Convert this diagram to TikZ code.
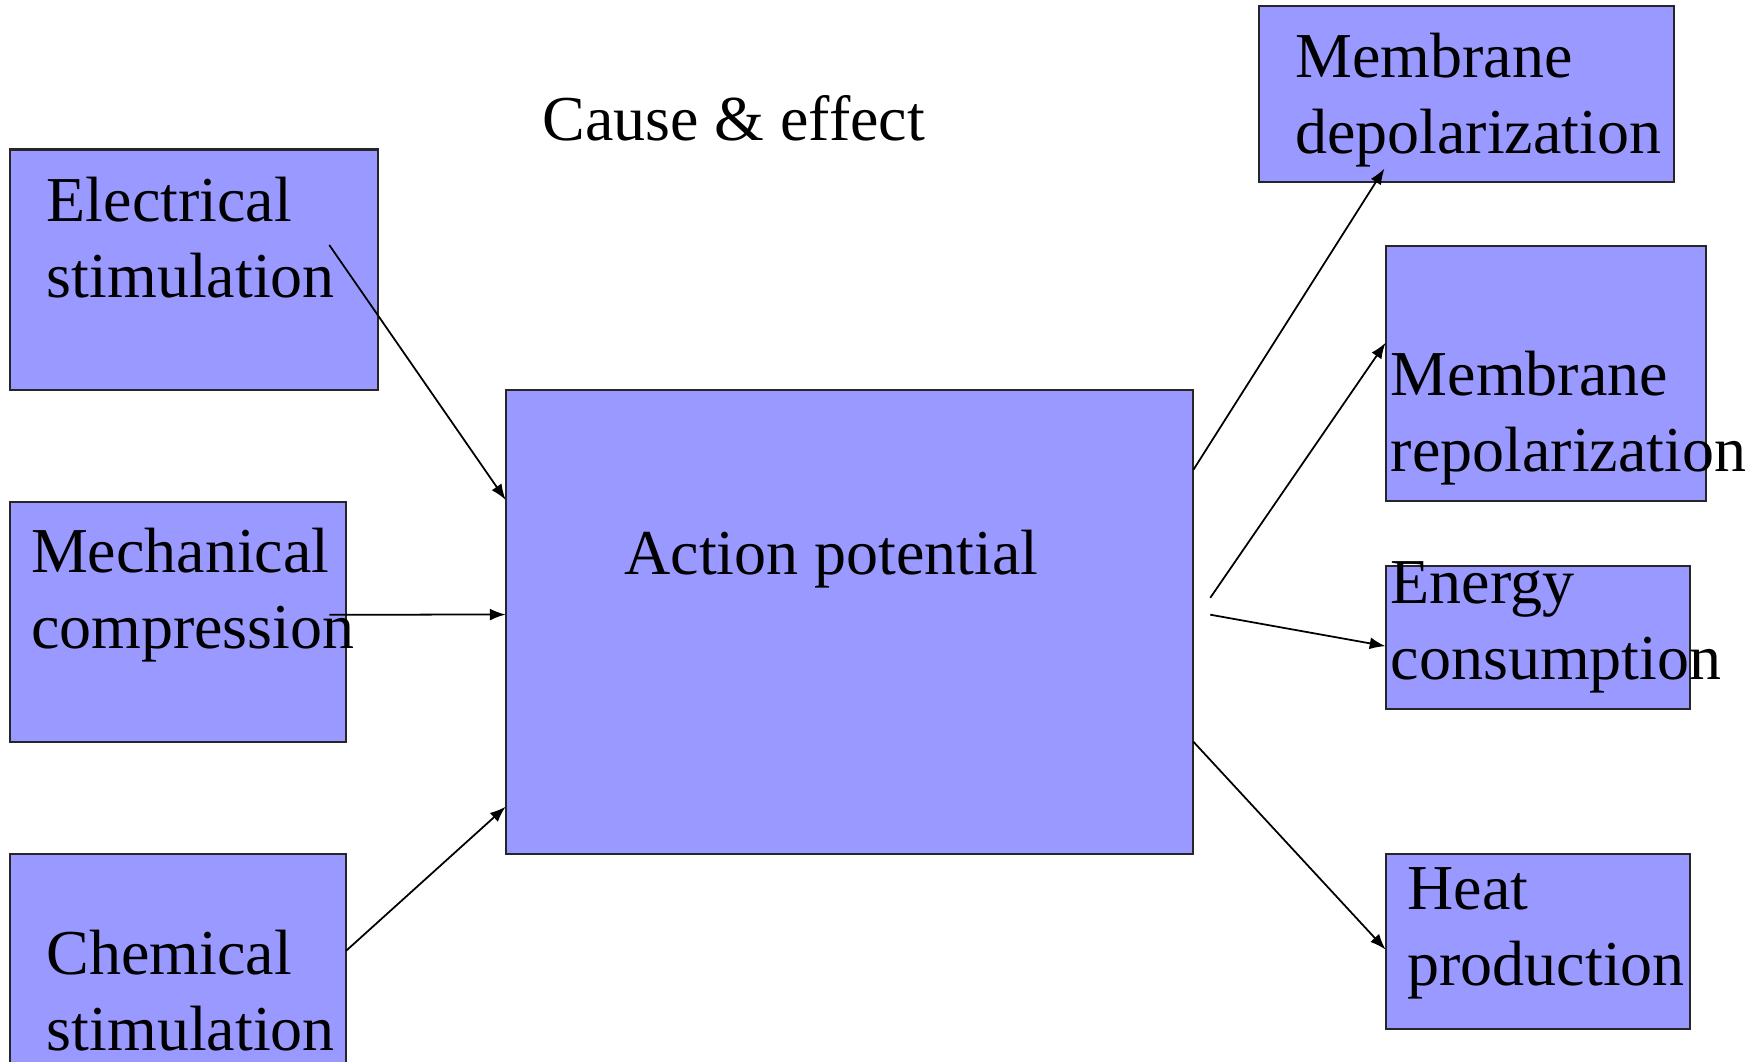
\documentclass[tikz,border=0pt]{standalone}
\usepackage{fontspec}
\setmainfont{Liberation Serif}
\usetikzlibrary{fit,calc,arrows.meta}
\definecolor{boxblue}{RGB}{153,153,255}

\begin{document}
\begin{tikzpicture}
  [x=0.011237cm,y=-0.011237cm,
   box/.style={draw=black!85,line width=0.6pt,fill=boxblue,inner sep=0pt,outer sep=0pt},
   lbl/.style={anchor=base west,align=left,inner sep=0pt,font=\fontsize{18.2}{21.7}\selectfont},
   link/.style={-{Latex[length=4.5pt,width=3.4pt]},line width=0.5pt}]
  \useasboundingbox (0,0) rectangle (1568,944.2);

  % causes
  \node[box,fit={(9,133) (336,347)}] (elec) {};
  \node[box,fit={(9,447) (308,660)}] (mech) {};
  \node[box,fit={(9,760) (308,965)}] (chem) {};
  % centre
  \node[box,fit={(450,347) (1062,760)}] (ap) {};
  % effects
  \node[box,fit={(1120,5) (1490,162)}] (depol) {};
  \node[box,fit={(1233,219) (1518,446)}] (repol) {};
  \node[box,fit={(1233,504) (1504,631)}] (energy) {};
  \node[box,fit={(1233,760) (1504,916)}] (heat) {};

  % texts (base = last line)
  \node[lbl] (title) at (482,125) {Cause \& effect};
  \node[lbl] (elec txt) at (41,265) {Electrical\\stimulation};
  \node[lbl] (mech txt) at (27,577) {Mechanical\\compression};
  \node[lbl] (chem txt) at (41,935) {Chemical\\stimulation};
  \node[lbl] (ap txt) at (555,511) {Action potential};
  \node[lbl] (depol txt) at (1152,137) {Membrane\\depolarization};
  \node[lbl] (repol txt) at (1237,420) {Membrane\\repolarization};
  \node[lbl] (energy txt) at (1237,605) {Energy\\consumption};
  \node[lbl] (heat txt) at (1252,877) {Heat\\production};

  % arrow ends
  \coordinate (e out) at (293,218);
  \coordinate (m out) at (293,547);
  \coordinate (c out) at ($(chem.north east)!0.42!(chem.south east)$);
  \coordinate (ap in1) at ($(ap.north west)!0.237!(ap.south west)$);
  \coordinate (ap in2) at ($(ap.north west)!0.484!(ap.south west)$);
  \coordinate (ap in3) at ($(ap.north west)!0.898!(ap.south west)$);
  \coordinate (ap out1) at ($(ap.north east)!0.172!(ap.south east)$);
  \coordinate (ap out2) at (1077,532);
  \coordinate (ap out3) at (1077,547);
  \coordinate (ap out4) at ($(ap.north east)!0.758!(ap.south east)$);
  \coordinate (depol in) at (1232,150);
  \coordinate (repol in) at ($(repol.north west)!0.379!(repol.south west)$);
  \coordinate (energy in) at ($(energy.north west)!0.559!(energy.south west)$);
  \coordinate (heat in) at ($(heat.north west)!0.545!(heat.south west)$);

  \foreach \from/\to in {e out/ap in1,m out/ap in2,c out/ap in3,
      ap out1/depol in,ap out2/repol in,ap out3/energy in,ap out4/heat in}
    \draw[link] (\from) -- (\to);

\end{tikzpicture}
\end{document}
